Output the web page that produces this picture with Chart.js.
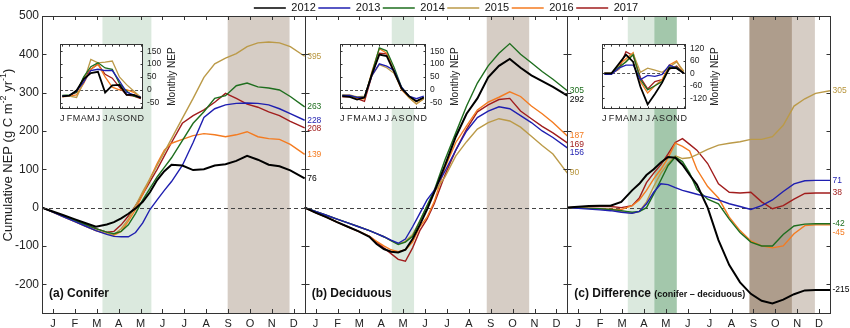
<!DOCTYPE html>
<html>
<head>
<meta charset="utf-8">
<script src="https://cdn.jsdelivr.net/npm/chart.js@4.4.0/dist/chart.umd.min.js"></script>
<style>
  body { margin: 0; background: #fff; }
  #wrap { position: relative; width: 850px; height: 328px; overflow: hidden; }
  canvas { position: absolute; }
</style>
</head>
<body>
<div id="wrap">
  <canvas id="main" width="850" height="328" style="left:0;top:0"></canvas>
  <canvas id="legend" width="850" height="40" style="left:0;top:0"></canvas>
  <canvas id="insA" width="127" height="92" style="left:56px;top:35px"></canvas>
  <canvas id="insB" width="130" height="92" style="left:336px;top:35px"></canvas>
  <canvas id="insC" width="128" height="92" style="left:598px;top:35px"></canvas>
</div>
<script>
Chart.defaults.font.family = "'Liberation Sans', Arial, sans-serif";
Chart.defaults.color = '#222';

const YEARS = ['2012', '2013', '2014', '2015', '2016', '2017'];
const COLORS = ['#000000', '#1f1fb0', '#1e6e1e', '#bb9a48', '#f47b20', '#a11d1d'];
const MONTHS = ['J', 'F', 'M', 'A', 'M', 'J', 'J', 'A', 'S', 'O', 'N', 'D'];
const Y_TICKS = [-200, -100, 0, 100, 200, 300, 400, 500];

// day of year for the cumulative series
const DAYS = [0, 15, 30, 45, 60, 75, 90, 100, 110, 120, 130, 140, 150, 160, 170, 180, 195, 210, 225, 240, 255, 270, 285, 300, 315, 330, 345, 365];

// (a) conifer, cumulative NEP
const con2012 = [0, -10, -20, -30, -40, -50, -44, -38, -28, -16, -2, 15, 40, 72, 95, 112, 110, 98, 100, 110, 113, 122, 135, 125, 112, 108, 97, 76];
const con2013 = [0, -12, -24, -36, -48, -60, -70, -75, -76, -76, -65, -40, -5, 20, 45, 68, 110, 170, 235, 258, 268, 272, 273, 272, 268, 258, 245, 228];
const con2014 = [0, -11, -22, -33, -44, -55, -64, -68, -62, -45, -15, 20, 50, 80, 105, 130, 175, 220, 250, 285, 292, 318, 325, 315, 312, 307, 290, 263];
const con2015 = [0, -12, -24, -36, -48, -60, -68, -70, -55, -30, 5, 42, 75, 110, 145, 180, 233, 285, 340, 375, 390, 402, 420, 430, 432, 430, 420, 395];
const con2016 = [0, -12, -24, -36, -48, -60, -68, -72, -62, -35, -5, 35, 75, 115, 150, 168, 178, 188, 193, 190, 185, 190, 198, 185, 180, 178, 165, 139];
const con2017 = [0, -11, -22, -33, -44, -55, -64, -62, -45, -22, 5, 35, 68, 100, 135, 170, 220, 240, 255, 275, 298, 285, 270, 262, 250, 240, 225, 208];

// (b) deciduous, cumulative NEP
const dec2012 = [0, -13, -25, -38, -50, -62, -76, -95, -108, -115, -117, -110, -82, -45, -5, 40, 110, 185, 245, 285, 340, 370, 388, 365, 345, 330, 315, 292];
const dec2013 = [0, -10, -20, -30, -40, -50, -60, -68, -76, -85, -93, -82, -50, -15, 20, 45, 95, 150, 200, 235, 252, 263, 258, 240, 222, 200, 183, 156];
const dec2014 = [0, -10, -20, -30, -40, -50, -60, -68, -76, -86, -96, -90, -75, -35, 5, 45, 125, 195, 265, 325, 370, 403, 428, 400, 378, 355, 335, 305];
const dec2015 = [0, -10, -20, -30, -40, -50, -60, -68, -76, -86, -95, -88, -70, -35, 5, 40, 80, 135, 172, 205, 222, 232, 226, 210, 186, 162, 140, 90];
const dec2016 = [0, -13, -25, -38, -50, -62, -75, -88, -100, -110, -115, -110, -90, -50, -25, 15, 105, 170, 213, 255, 275, 288, 302, 290, 265, 245, 222, 187];
const dec2017 = [0, -13, -25, -38, -50, -62, -75, -90, -105, -120, -135, -140, -105, -60, -30, 10, 85, 150, 205, 250, 268, 282, 285, 252, 232, 212, 195, 169];

// (c) difference (conifer - deciduous)
const dif2012 = [0, 2, 4, 5, 5, 15, 45, 62, 85, 100, 118, 132, 130, 112, 85, 60, 0, -85, -150, -195, -225, -243, -250, -240, -226, -216, -215, -215];
const dif2013 = [0, -2, -4, -6, -8, -12, -15, -10, 10, 40, 62, 60, 52, 45, 40, 35, 28, 20, 10, 3, -5, 5, 20, 42, 62, 70, 71, 71];
const dif2014 = [0, -1, -2, -3, -5, -8, -12, -10, 0, 35, 72, 110, 132, 120, 90, 48, 22, 10, -30, -65, -90, -100, -100, -70, -48, -43, -42, -42];
const dif2015 = [0, -1, -2, -4, -6, -10, -15, -10, 15, 55, 90, 115, 135, 128, 130, 138, 152, 163, 168, 172, 178, 178, 185, 215, 265, 284, 298, 305];
const dif2016 = [0, -1, -2, -3, -4, -5, 5, 20, 45, 75, 100, 130, 168, 160, 148, 100, 55, 25, -25, -60, -87, -100, -105, -100, -68, -47, -45, -45];
const dif2017 = [0, 1, 2, 3, 3, 0, 5, 25, 65, 90, 112, 140, 170, 180, 165, 150, 115, 62, 40, 38, 40, 15, -3, 5, 22, 37, 38, 38];

// monthly NEP (insets), Jan..Dec
const mCon2012 = [-26, -23, -3, 42, 65, 70, -11, 17, 19, -20, -20, -32];
const mCon2013 = [-25, -22, -5, 30, 75, 80, 75, 75, 35, -10, -20, -30];
const mCon2014 = [-22, -20, -10, 50, 90, 105, 85, 80, 25, -5, -25, -30];
const mCon2015 = [-25, -25, -30, 30, 118, 105, 108, 112, 50, 20, -5, -30];
const mCon2016 = [-28, -25, -20, 25, 80, 100, 50, 10, 0, 0, -10, -30];
const mCon2017 = [-25, -22, -10, 45, 80, 100, 60, 45, 10, -20, -25, -35];

const mDec2012 = [-25, -28, -38, -30, 60, 137, 131, 70, 5, -25, -45, -30];
const mDec2013 = [-22, -22, -30, -30, 55, 101, 92, 75, 10, -25, -35, -25];
const mDec2014 = [-22, -24, -30, -30, 65, 163, 152, 87, 10, -25, -45, -30];
const mDec2015 = [-20, -20, -28, -25, 55, 98, 86, 64, 5, -30, -55, -35];
const mDec2016 = [-25, -25, -35, -35, 70, 160, 143, 70, 0, -30, -55, -35];
const mDec2017 = [-28, -28, -35, -45, 55, 143, 140, 70, 5, -25, -45, -30];

const mDif2012 = [0, 0, 45, 90, 55, -65, -150, -100, -45, 25, 25, 0];
const mDif2013 = [-5, -5, 25, 40, 40, -30, -10, -15, -5, 40, 25, 0];
const mDif2014 = [0, 0, 30, 55, 90, -30, -80, -60, -40, 30, 30, 0];
const mDif2015 = [0, 0, 20, 60, 95, 5, 25, 15, 5, 30, 55, 10];
const mDif2016 = [0, 0, 40, 70, 100, -40, -95, -60, -30, 40, 60, 0];
const mDif2017 = [0, 0, 20, 105, 85, -20, -75, -40, -30, 20, 35, 0];

// shaded periods (day of year)
const greenConifer = [84, 152];
const brownConifer = [258, 344];
const greenDecid = [121, 152];
const brownDecid = [253, 312];

const CON = [con2012, con2013, con2014, con2015, con2016, con2017];
const DEC = [dec2012, dec2013, dec2014, dec2015, dec2016, dec2017];
const DIF = [dif2012, dif2013, dif2014, dif2015, dif2016, dif2017];
const PANELS = [CON, DEC, DIF];

const LIGHT_GREEN = '#dbe9de';
const LIGHT_BROWN = '#d6cdc5';
const DARK_GREEN = '#a3c7ab';
const DARK_BROWN = '#ae9d8c';

const MONTH_TICKS = [];
for (let p = 0; p < 3; p++) {
  for (let m = 0; m < 12; m++) MONTH_TICKS.push(365 * p + (m + 0.5) * 365 / 12);
}

const datasets = [];
PANELS.forEach((series, p) => {
  series.forEach((vals, i) => {
    datasets.push({
      label: YEARS[i],
      data: DAYS.map((d, j) => ({ x: d + 365 * p, y: vals[j] })),
      borderColor: COLORS[i],
      borderWidth: i === 0 ? 2 : 1.4,
      pointRadius: 0,
      tension: 0,
      fill: false
    });
  });
});

const panelDeco = {
  id: 'panelDeco',
  beforeDatasetsDraw(chart) {
    const { ctx, chartArea: a, scales: { x, y } } = chart;
    ctx.save();
    const band = (span, p, col) => {
      const x0 = x.getPixelForValue(span[0] + 365 * p);
      const x1 = x.getPixelForValue(span[1] + 365 * p);
      ctx.fillStyle = col;
      ctx.fillRect(x0, a.top, x1 - x0, a.bottom - a.top);
    };
    band(greenConifer, 0, LIGHT_GREEN);
    band(brownConifer, 0, LIGHT_BROWN);
    band(greenDecid, 1, LIGHT_GREEN);
    band(brownDecid, 1, LIGHT_BROWN);
    band(greenConifer, 2, LIGHT_GREEN);
    band(brownConifer, 2, LIGHT_BROWN);
    band(greenDecid, 2, DARK_GREEN);
    band(brownDecid, 2, DARK_BROWN);

    const y0 = Math.round(y.getPixelForValue(0)) + 0.5;
    ctx.strokeStyle = '#444';
    ctx.lineWidth = 1;
    ctx.setLineDash([4, 3]);
    ctx.beginPath();
    ctx.moveTo(a.left, y0);
    ctx.lineTo(a.right, y0);
    ctx.stroke();
    ctx.restore();
  },
  afterDatasetsDraw(chart) {
    const { ctx, chartArea: a, scales: { x, y } } = chart;
    ctx.save();
    ctx.strokeStyle = '#333';
    ctx.lineWidth = 1;

    // inward ticks
    ctx.save();
    ctx.beginPath();
    ctx.rect(a.left, a.top, a.right - a.left, a.bottom - a.top);
    ctx.clip();
    ctx.beginPath();
    [0, 365, 730, 1095].forEach(b => {
      const bx = Math.round(x.getPixelForValue(b)) + 0.5;
      Y_TICKS.forEach(v => {
        const py = Math.round(y.getPixelForValue(v)) + 0.5;
        ctx.moveTo(bx - 4, py);
        ctx.lineTo(bx + 4, py);
      });
    });
    MONTH_TICKS.forEach(v => {
      const px = Math.round(x.getPixelForValue(v)) + 0.5;
      ctx.moveTo(px, a.top);
      ctx.lineTo(px, a.top + 4);
      ctx.moveTo(px, a.bottom - 4);
      ctx.lineTo(px, a.bottom);
    });
    ctx.stroke();
    ctx.restore();

    // panel frames
    for (let p = 0; p < 3; p++) {
      const x0 = Math.round(x.getPixelForValue(365 * p)) + 0.5;
      const x1 = Math.round(x.getPixelForValue(365 * (p + 1))) + 0.5;
      ctx.strokeRect(x0, Math.round(a.top) + 0.5, x1 - x0, Math.round(a.bottom - a.top));
    }

    // panel titles
    ctx.fillStyle = '#111';
    ctx.textBaseline = 'alphabetic';
    ctx.textAlign = 'left';
    const titles = ['(a) Conifer', '(b) Deciduous', '(c) Difference '];
    titles.forEach((t, p) => {
      const tx = x.getPixelForValue(365 * p) + 7;
      ctx.font = "bold 12px 'Liberation Sans', Arial, sans-serif";
      ctx.fillText(t, tx, a.bottom - 16);
      if (p === 2) {
        const w = ctx.measureText(t).width;
        ctx.font = "bold 9px 'Liberation Sans', Arial, sans-serif";
        ctx.fillText('(conifer \u2013 deciduous)', tx + w, a.bottom - 16);
      }
    });

    // end-of-year values
    ctx.font = "8.5px 'Liberation Sans', Arial, sans-serif";
    ctx.textBaseline = 'middle';
    PANELS.forEach((series, p) => {
      const labs = series.map((vals, i) => {
        const v = vals[vals.length - 1];
        return { v, c: COLORS[i], py: y.getPixelForValue(v) };
      }).sort((m, n) => m.py - n.py);
      for (let k = 1; k < labs.length; k++) {
        if (labs[k].py - labs[k - 1].py < 8.5) labs[k].py = labs[k - 1].py + 8.5;
      }
      const lx = x.getPixelForValue(365 * (p + 1)) + 2.5;
      labs.forEach(l => {
        ctx.fillStyle = l.c === '#bb9a48' ? '#b8963e' : l.c;
        ctx.fillText(String(l.v), lx, l.py);
      });
    });
    ctx.restore();
  },
  afterDraw(chart) {
    const { ctx } = chart;
    const parts = [['Cumulative NEP (g C m', 0], ['-2', 1], [' yr', 0], ['-1', 1], [')', 0]];
    const big = "13px 'Liberation Sans', Arial, sans-serif";
    const small = "9px 'Liberation Sans', Arial, sans-serif";
    ctx.save();
    ctx.translate(8, 155);
    ctx.rotate(-Math.PI / 2);
    ctx.fillStyle = '#222';
    ctx.textBaseline = 'middle';
    ctx.textAlign = 'left';
    let total = 0;
    parts.forEach(([t, sup]) => { ctx.font = sup ? small : big; total += ctx.measureText(t).width; });
    let cx = -total / 2;
    parts.forEach(([t, sup]) => {
      ctx.font = sup ? small : big;
      ctx.fillText(t, cx, sup ? -4 : 0);
      cx += ctx.measureText(t).width;
    });
    ctx.restore();
  }
};

new Chart(document.getElementById('main'), {
  type: 'line',
  data: { datasets },
  options: {
    responsive: false,
    animation: false,
    layout: { padding: { left: 0, right: 20, top: 16, bottom: 0 }, autoPadding: false },
    plugins: { legend: { display: false }, tooltip: { enabled: false } },
    scales: {
      x: {
        type: 'linear', min: 0, max: 1095,
        afterBuildTicks: s => { s.ticks = MONTH_TICKS.map(v => ({ value: v })); },
        afterFit: s => { s.height = 15; },
        ticks: { autoSkip: false, maxRotation: 0, padding: 4, font: { size: 11 }, color: '#222',
                 callback: (v, i) => MONTHS[i % 12] },
        grid: { display: false, drawTicks: false },
        border: { display: false }
      },
      y: {
        min: -275, max: 500,
        afterBuildTicks: s => { s.ticks = Y_TICKS.map(v => ({ value: v })); },
        afterFit: s => { s.width = 42; },
        ticks: { padding: 3, font: { size: 12 }, color: '#222' },
        grid: { display: false, drawTicks: false },
        border: { display: false }
      }
    }
  },
  plugins: [panelDeco]
});

// legend strip
new Chart(document.getElementById('legend'), {
  type: 'line',
  data: {
    datasets: YEARS.map((yr, i) => ({ label: yr, data: [], borderColor: COLORS[i], backgroundColor: COLORS[i], borderWidth: 1.6 }))
  },
  options: {
    responsive: false,
    animation: false,
    layout: { padding: { left: 42, right: 0, top: 0, bottom: 0 } },
    plugins: {
      tooltip: { enabled: false },
      legend: {
        position: 'top',
        labels: { usePointStyle: true, pointStyle: 'line', pointStyleWidth: 32, padding: 2.5,
                  font: { size: 11 }, color: '#111' }
      }
    },
    scales: { x: { display: false }, y: { display: false } }
  }
});

// insets
const insetDeco = {
  id: 'insetDeco',
  beforeDraw(chart) {
    const { ctx, chartArea: a } = chart;
    ctx.save();
    ctx.fillStyle = '#fff';
    ctx.fillRect(a.left, a.top, a.right - a.left, a.bottom - a.top);
    ctx.restore();
  },
  beforeDatasetsDraw(chart) {
    const { ctx, chartArea: a, scales: { y } } = chart;
    const y0 = Math.round(y.getPixelForValue(0)) + 0.5;
    ctx.save();
    ctx.strokeStyle = '#555';
    ctx.lineWidth = 1.2;
    ctx.setLineDash([3, 2]);
    ctx.beginPath();
    ctx.moveTo(a.left, y0);
    ctx.lineTo(a.right, y0);
    ctx.stroke();
    ctx.restore();
  },
  afterDatasetsDraw(chart, args, opts) {
    const { ctx, chartArea: a, scales: { x, y } } = chart;
    ctx.save();
    ctx.strokeStyle = '#333';
    ctx.lineWidth = 1;
    ctx.beginPath();
    for (let m = 1; m <= 12; m++) {
      const px = Math.round(x.getPixelForValue(m)) + 0.5;
      ctx.moveTo(px, a.top); ctx.lineTo(px, a.top + 2.5);
      ctx.moveTo(px, a.bottom - 2.5); ctx.lineTo(px, a.bottom);
    }
    opts.ticks.forEach(v => {
      const py = Math.round(y.getPixelForValue(v)) + 0.5;
      ctx.moveTo(a.left, py); ctx.lineTo(a.left + 2.5, py);
      ctx.moveTo(a.right - 2.5, py); ctx.lineTo(a.right, py);
    });
    ctx.stroke();
    ctx.strokeRect(Math.round(a.left) + 0.5, Math.round(a.top) + 0.5, Math.round(a.right - a.left) - 1, Math.round(a.bottom - a.top) - 1);
    ctx.restore();
  },
  afterDraw(chart) {
    const { ctx, chartArea: a } = chart;
    ctx.save();
    ctx.translate(a.right + 29, (a.top + a.bottom) / 2);
    ctx.rotate(-Math.PI / 2);
    ctx.fillStyle = '#222';
    ctx.font = "10px 'Liberation Sans', Arial, sans-serif";
    ctx.textAlign = 'center';
    ctx.textBaseline = 'middle';
    ctx.fillText('Monthly NEP', 0, 0);
    ctx.restore();
  }
};

function makeInset(id, series, yMin, yMax, yTicks) {
  new Chart(document.getElementById(id), {
    type: 'line',
    data: {
      datasets: series.map((vals, i) => ({
        label: YEARS[i],
        data: vals.map((v, m) => ({ x: m + 1, y: v })),
        borderColor: COLORS[i],
        borderWidth: i === 0 ? 1.8 : 1.3,
        pointRadius: 0,
        tension: 0,
        fill: false
      }))
    },
    options: {
      responsive: false,
      animation: false,
      layout: { padding: 0, autoPadding: false },
      plugins: { legend: { display: false }, tooltip: { enabled: false }, insetDeco: { ticks: yTicks } },
      scales: {
        x: {
          type: 'linear', min: 0.7, max: 12.3,
          afterBuildTicks: s => { s.ticks = MONTHS.map((_, m) => ({ value: m + 1 })); },
          afterFit: s => { s.height = 18; },
          ticks: { autoSkip: false, maxRotation: 0, padding: 4, font: { size: 9 }, color: '#222',
                   callback: (v, i) => MONTHS[i] },
          grid: { display: false, drawTicks: false },
          border: { display: false }
        },
        y: {
          position: 'right', min: yMin, max: yMax,
          afterBuildTicks: s => { s.ticks = yTicks.map(v => ({ value: v })); },
          afterFit: s => { s.width = 40; },
          ticks: { padding: 4, font: { size: 8.5 }, color: '#222' },
          grid: { display: false, drawTicks: false },
          border: { display: false }
        }
      }
    },
    plugins: [insetDeco]
  });
}

makeInset('insA', [mCon2012, mCon2013, mCon2014, mCon2015, mCon2016, mCon2017], -75, 178, [-50, 0, 50, 100, 150]);
makeInset('insB', [mDec2012, mDec2013, mDec2014, mDec2015, mDec2016, mDec2017], -75, 178, [-50, 0, 50, 100, 150]);
makeInset('insC', [mDif2012, mDif2013, mDif2014, mDif2015, mDif2016, mDif2017], -172, 141, [-120, -60, 0, 60, 120]);
</script>
</body>
</html>
